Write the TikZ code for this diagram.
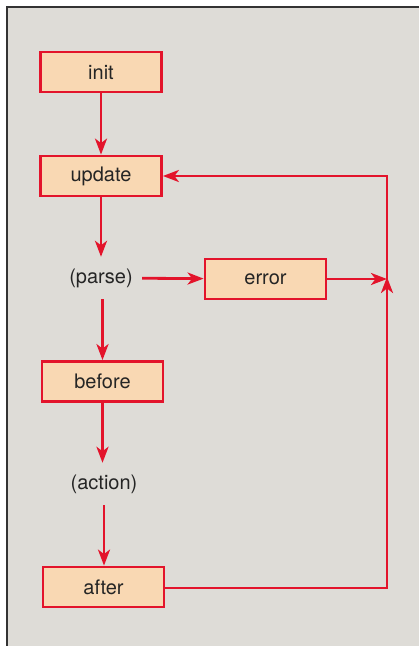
\documentclass[tikz,border=0pt]{standalone}
\usepackage{fontspec}
\setmainfont{TeX Gyre Heros}
\usetikzlibrary{arrows.meta}
\definecolor{lred}{HTML}{E3142B}
\definecolor{peach}{HTML}{F9D8B3}
\definecolor{bgc}{HTML}{DEDCD7}
\definecolor{txt}{HTML}{252525}
\tikzset{
  stepbox/.style={draw=lred, line width=2.8pt, fill=peach, minimum width=121pt,
    minimum height=40pt, inner sep=0pt, font=\fontsize{20}{24}\selectfont, text=txt},
  steplabel/.style={minimum width=82pt, minimum height=42pt, inner sep=0pt,
    font=\fontsize{20}{24}\selectfont, text=txt},
  flow/.style={draw=lred, line width=2.8pt, -{Stealth[length=16pt,width=12pt,inset=4.5pt]}}
}
\begin{document}
\begin{tikzpicture}[x=1pt,y=-1pt]
\useasboundingbox (0,0) rectangle (419,646);
\fill[white] (0,0) rectangle (419,646);
\fill[bgc] (7,7) rectangle (419,646);
\draw[line width=1.4pt, black!80] (7,646) -- (7,7) -- (419,7);

\node[stepbox] (init) at (101,72) {init};
\node[stepbox] (update) at (101,176) {update};
\node[steplabel] (parse) at (101,278) {(parse)};
\node[stepbox] (error) at (265.5,279) {error};
\node[stepbox] (before) at (102.5,381.5) {before};
\node[steplabel] (action) at (104,484) {(action)};
\node[stepbox] (after) at (103.5,587) {after};

\coordinate (join) at (387,279);
\coordinate (top) at (387,176);
\coordinate (bottom) at (387,588);

\draw[flow] (init) -- (update);
\draw[flow] (update) -- (parse);
\draw[flow] (parse) -- (error);
\draw[flow] (before.north |- parse.south) -- (before.north);
\draw[flow] (before.south) -- (before.south |- action.north);
\draw[flow] (action.south) -- (action.south |- after.north);
\draw[flow] (error) -- (join);
\draw[flow] (after.east |- bottom) -- (bottom) -- ([yshift=2pt]join);
\draw[flow] (join) -- (top) -- (update.east);
\end{tikzpicture}
\end{document}
